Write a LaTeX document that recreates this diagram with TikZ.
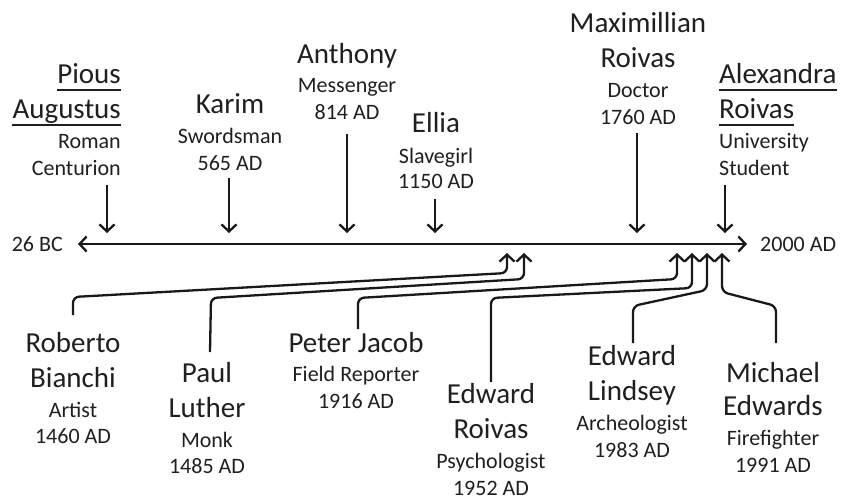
\documentclass[tikz,border=0pt]{standalone}
\usepackage{fontspec}
\setmainfont{Carlito}
\usetikzlibrary{arrows.meta}
\begin{document}
\begin{tikzpicture}[x=1pt,y=-1pt,
  nm/.style={font=\fontsize{29}{35}\selectfont, inner sep=0pt, anchor=base, text=black!88},
  sb/.style={font=\fontsize{22}{27}\selectfont, inner sep=0pt, anchor=base, text=black!88},
  barb/.tip={Straight Barb[length=7pt,width=15pt]},
  arr/.style={line width=2.3pt, -barb, black!90},
  conn/.style={arr, rounded corners=6pt},
  ul/.style={line width=2pt, black!88}]
\useasboundingbox (0,0) rectangle (841,499);

% timeline
\node[sb, anchor=base east] (bc) at (63,251) {26 BC};
\node[sb, anchor=base west] (ad) at (760,251) {2000 AD};
\coordinate (tl) at (78,244);
\coordinate (tr) at (747,244);
\draw[line width=2.3pt, black!90, barb-barb] (tl) -- (tr);

% ---------- top ----------
% Pious Augustus
\node[nm, anchor=base east] (pa1) at (121,83) {Pious};
\node[nm, anchor=base east] (pa2) at (121,118) {Augustus};
\node[sb, anchor=base east] (pa3) at (121,148) {Roman};
\node[sb, anchor=base east] (pa4) at (121,175) {Centurion};
\draw[ul] ([yshift=-6.5pt]pa1.base west) -- ([yshift=-6.5pt]pa1.base east);
\draw[ul] ([yshift=-6.5pt]pa2.base west) -- ([yshift=-6.5pt]pa2.base east);
\coordinate (paS) at (107,185);
\coordinate (paT) at (107,233);
\draw[arr] (paS) -- (paT);

% Karim
\node[nm] (ka1) at (230,113) {Karim};
\node[sb] (ka2) at (230,143) {Swordsman};
\node[sb] (ka3) at (230,170) {565 AD};
\coordinate (kaS) at (229,178);
\coordinate (kaT) at (229,233);
\draw[arr] (kaS) -- (kaT);

% Anthony
\node[nm] (an1) at (347,63) {Anthony};
\node[sb] (an2) at (347,92) {Messenger};
\node[sb] (an3) at (347,119) {814 AD};
\coordinate (anS) at (347,134);
\coordinate (anT) at (347,233);
\draw[arr] (anS) -- (anT);

% Ellia
\node[nm] (el1) at (436,132) {Ellia};
\node[sb] (el2) at (436,163) {Slavegirl};
\node[sb] (el3) at (436,188) {1150 AD};
\coordinate (elS) at (435,199);
\coordinate (elT) at (435,233);
\draw[arr] (elS) -- (elT);

% Maximillian Roivas
\node[nm] (mr1) at (638,32) {Maximillian};
\node[nm] (mr2) at (638,67) {Roivas};
\node[sb] (mr3) at (638,97) {Doctor};
\node[sb] (mr4) at (638,124) {1760 AD};
\coordinate (mrS) at (637,133);
\coordinate (mrT) at (637,233);
\draw[arr] (mrS) -- (mrT);

% Alexandra Roivas
\node[nm, anchor=base west] (ar1) at (719,83) {Alexandra};
\node[nm, anchor=base west] (ar2) at (719,118) {Roivas};
\node[sb, anchor=base west] (ar3) at (719,148) {University};
\node[sb, anchor=base west] (ar4) at (719,175) {Student};
\draw[ul] ([yshift=-6.5pt]ar1.base west) -- ([yshift=-6.5pt]ar1.base east);
\draw[ul] ([yshift=-6.5pt]ar2.base west) -- ([yshift=-6.5pt]ar2.base east);
\coordinate (arS) at (725,185);
\coordinate (arT) at (725,233);
\draw[arr] (arS) -- (arT);

% ---------- bottom ----------
% Roberto Bianchi
\node[nm] (rb1) at (73,352) {Roberto};
\node[nm] (rb2) at (73,387) {Bianchi};
\node[sb] (rb3) at (73,417) {Artist};
\node[sb] (rb4) at (73,443) {1460 AD};
\coordinate (rbS) at (73,315);
\coordinate (rbT) at (507,253);
\draw[conn] (rbS) -- (73,297) -- (507,273) -- (rbT);

% Paul Luther
\node[nm] (pl1) at (207,382) {Paul};
\node[nm] (pl2) at (207,417) {Luther};
\node[sb] (pl3) at (207,447) {Monk};
\node[sb] (pl4) at (207,473) {1485 AD};
\coordinate (plS) at (210,352);
\coordinate (plT) at (524,253);
\draw[conn] (plS) -- (211,298) -- (524,279) -- (plT);

% Peter Jacob
\node[nm] (pj1) at (356,352) {Peter Jacob};
\node[sb] (pj2) at (356,381) {Field Reporter};
\node[sb] (pj3) at (356,408) {1916 AD};
\coordinate (pjS) at (358,329);
\coordinate (pjT) at (677,253);
\draw[conn] (pjS) -- (358,298) -- (677,279) -- (pjT);

% Edward Roivas
\node[nm] (er1) at (491,403) {Edward};
\node[nm] (er2) at (491,438) {Roivas};
\node[sb] (er3) at (491,468) {Psychologist};
\node[sb] (er4) at (491,495) {1952 AD};
\coordinate (erS) at (491,382);
\coordinate (erT) at (692,253);
\draw[conn] (erS) -- (491,298) -- (692,288) -- (erT);

% Edward Lindsey
\node[nm] (ed1) at (632,365) {Edward};
\node[nm] (ed2) at (632,400) {Lindsey};
\node[sb] (ed3) at (632,430) {Archeologist};
\node[sb] (ed4) at (632,457) {1983 AD};
\coordinate (edS) at (633,343);
\coordinate (edT) at (707,253);
\draw[conn] (edS) -- (633,306) -- (707,290) -- (edT);

% Michael Edwards
\node[nm] (me1) at (773,382) {Michael};
\node[nm] (me2) at (773,415) {Edwards};
\node[sb] (me3) at (773,445) {Firefighter};
\node[sb] (me4) at (773,472) {1991 AD};
\coordinate (meS) at (776,343);
\coordinate (meT) at (722,253);
\draw[conn] (meS) -- (776,306) -- (722,292) -- (meT);
\end{tikzpicture}
\end{document}
